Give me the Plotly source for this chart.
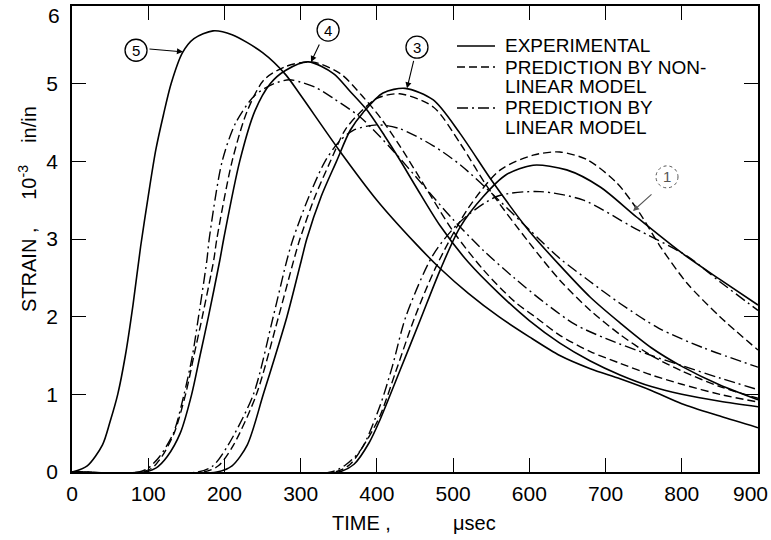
import plotly.graph_objects as go

# ---------------- data (time in microseconds, strain in 1e-3 in/in) ----------------
# Curve 5 (experimental only)
t_e5 = [0, 20, 40, 50, 60, 70, 80, 90, 100, 110, 120, 130, 145, 160, 185, 210, 250, 280, 300, 350,
        400, 450, 483, 520, 560, 600, 640, 680, 719, 760, 800, 850, 900]
s_e5 = [0, 0.08, 0.35, 0.65, 1.0, 1.5, 2.15, 2.9, 3.55, 4.15, 4.6, 5.0, 5.4, 5.58, 5.68, 5.63, 5.4, 5.12, 4.85, 4.15,
        3.5, 2.95, 2.62, 2.3, 2.0, 1.74, 1.5, 1.33, 1.2, 1.05, 0.88, 0.72, 0.57]

# Curve 4
t_e4 = [0, 95, 110, 125, 142, 157, 168, 179, 194, 199, 220, 240, 260, 280, 310, 343, 365, 387, 410, 430,
        452, 483, 520, 560, 600, 640, 680, 719, 760, 800, 850, 900]
s_e4 = [0, 0, 0.05, 0.2, 0.5, 1.0, 1.5, 2.0, 2.73, 3.0, 4.0, 4.65, 5.0, 5.17, 5.28, 5.13, 4.9, 4.66, 4.33, 4.02,
        3.66, 3.17, 2.7, 2.3, 1.95, 1.66, 1.43, 1.25, 1.1, 1.0, 0.91, 0.84]
t_n4 = [0, 90, 105, 118, 134, 149, 160, 171, 186, 190, 210, 230, 252, 280, 315, 352, 380, 404, 430, 466,
        500, 540, 580, 610, 640, 680, 719, 760, 800, 850, 900]
s_n4 = [0, 0, 0.05, 0.2, 0.5, 1.0, 1.5, 2.0, 2.73, 3.0, 4.0, 4.65, 5.05, 5.22, 5.28, 5.13, 4.85, 4.57, 4.2, 3.63,
        3.1, 2.6, 2.2, 1.98, 1.76, 1.55, 1.4, 1.25, 1.13, 1.0, 0.9]
t_l4 = [0, 88, 100, 115, 133, 147, 158, 166, 177, 180, 197, 215, 240, 265, 285, 300, 320, 343, 378, 420,
        460, 500, 540, 580, 620, 660, 700, 760, 800, 850, 900]
s_l4 = [0, 0, 0.05, 0.2, 0.5, 1.0, 1.5, 2.0, 2.73, 3.0, 4.0, 4.5, 4.85, 5.0, 5.05, 5.02, 4.95, 4.81, 4.57, 4.15,
        3.7, 3.25, 2.85, 2.5, 2.18, 1.9, 1.72, 1.5, 1.37, 1.21, 1.06]

# Curve 3
t_e3 = [0, 190, 210, 230, 251, 282, 301, 308, 327, 347, 365, 382, 408, 437, 474, 509, 553, 600, 640, 680,
        719, 760, 800, 850, 900]
s_e3 = [0, 0, 0.08, 0.35, 1.0, 2.0, 2.73, 3.0, 3.55, 4.0, 4.4, 4.63, 4.88, 4.94, 4.79, 4.36, 3.72, 3.1, 2.66, 2.25,
        1.92, 1.6, 1.36, 1.12, 0.93]
t_n3 = [0, 172, 192, 212, 242, 271, 291, 299, 319, 339, 358, 375, 400, 430, 474, 510, 545, 600, 640, 680,
        719, 760, 800, 850, 900]
s_n3 = [0, 0, 0.08, 0.35, 1.0, 2.0, 2.73, 3.0, 3.55, 4.0, 4.4, 4.6, 4.81, 4.87, 4.7, 4.22, 3.67, 2.95, 2.47, 2.08,
        1.77, 1.5, 1.3, 1.1, 0.95]
t_l3 = [0, 165, 185, 205, 238, 264, 282, 290, 311, 332, 350, 369, 400, 430, 474, 510, 560, 600, 640, 680,
        719, 770, 828, 900]
s_l3 = [0, 0, 0.08, 0.35, 1.0, 2.0, 2.73, 3.0, 3.55, 4.0, 4.25, 4.4, 4.47, 4.42, 4.2, 3.95, 3.5, 3.12, 2.75, 2.45,
        2.17, 1.85, 1.6, 1.35]

# Curve 1
t_e1 = [0, 350, 370, 390, 404, 430, 457, 483, 509, 539, 570, 605, 649, 693, 741, 800, 850, 900]
s_e1 = [0, 0, 0.1, 0.38, 0.67, 1.3, 1.96, 2.6, 3.15, 3.54, 3.83, 3.95, 3.89, 3.67, 3.28, 2.82, 2.48, 2.15]
t_n1 = [0, 345, 365, 385, 404, 425, 450, 478, 520, 562, 605, 640, 676, 715, 745, 772, 807, 850, 900]
s_n1 = [0, 0, 0.1, 0.38, 0.72, 1.3, 2.0, 2.65, 3.4, 3.89, 4.08, 4.12, 4.02, 3.72, 3.33, 2.9, 2.43, 2.0, 1.57]
t_l1 = [0, 340, 360, 380, 404, 420, 438, 474, 509, 558, 614, 671, 736, 807, 850, 900]
s_l1 = [0, 0, 0.1, 0.3, 0.85, 1.35, 2.0, 2.8, 3.22, 3.55, 3.61, 3.5, 3.15, 2.78, 2.45, 2.08]

x_ticks = [0, 100, 200, 300, 400, 500, 600, 700, 800, 900]
y_ticks = [0, 1, 2, 3, 4, 5, 6]

legend_labels = [["EXPERIMENTAL"],
                 ["PREDICTION BY NON-", "LINEAR MODEL"],
                 ["PREDICTION BY", "LINEAR MODEL"]]

# curve labels: (label, circle centre t, s, arrow head t, s, arrow tail offset px)
curve_labels = [("5", 84, 5.43, 145.6, 5.41, -35, -3),
                ("4", 336, 5.69, 313.6, 5.28, 9, -19),
                ("3", 452.6, 5.47, 439.5, 4.94, 7, -29),
                ("1", 780.6, 3.80, 736, 3.36, 20, -18)]

# ---------------- styles ----------------
SOLID = dict(color="black", width=1.6, dash="solid")
DASH = dict(color="black", width=1.4, dash="8px,4px")
DASHDOT = dict(color="black", width=1.4, dash="11px,4px,2px,4px")

FONT = "Liberation Sans, Arial, sans-serif"

fig = go.Figure()
series = [(t_e5, s_e5, SOLID),
          (t_e4, s_e4, SOLID), (t_n4, s_n4, DASH), (t_l4, s_l4, DASHDOT),
          (t_e3, s_e3, SOLID), (t_n3, s_n3, DASH), (t_l3, s_l3, DASHDOT),
          (t_e1, s_e1, SOLID), (t_n1, s_n1, DASH), (t_l1, s_l1, DASHDOT)]
for tx, sy, st in series:
    fig.add_trace(go.Scatter(x=tx, y=sy, mode="lines", showlegend=False, hoverinfo="skip",
                             line=dict(shape="spline", smoothing=0.8, **st)))

L, R, T, B = 72, 13, 6, 68
W, H = 771, 540
PW, PH = W - L - R, H - T - B


def px_to_paper(px, py):
    return (px - L) / PW, (H - B - py) / PH


shapes = []
annotations = []

# legend drawn at the upper right
rows_y = [46, 67, 87, 108, 128]
styles = [SOLID, DASH, DASHDOT]
row = 0
for lab, st in zip(legend_labels, styles):
    x0, y0 = px_to_paper(457, rows_y[row])
    x1, _ = px_to_paper(495, rows_y[row])
    shapes.append(dict(type="line", xref="paper", yref="paper", x0=x0, x1=x1, y0=y0, y1=y0,
                       line=dict(color="black", width=st["width"], dash=st["dash"])))
    for line_txt in lab:
        xt, yt = px_to_paper(503, rows_y[row])
        annotations.append(dict(xref="paper", yref="paper", x=xt, y=yt, text=line_txt, showarrow=False,
                                xanchor="left", yanchor="middle", font=dict(size=19, family=FONT, color="black")))
        row += 1

# curve labels with circles and arrows
for lab, ct, cs, ht, hs, ax, ay in curve_labels:
    faint = lab == "1"
    col = "#555555" if faint else "black"
    shapes.append(dict(type="circle", xref="x", yref="y", xsizemode="pixel", ysizemode="pixel",
                       xanchor=ct, yanchor=cs, x0=-11, x1=11, y0=-11, y1=11,
                       line=dict(color=col, width=1.0 if faint else 1.3, dash="dot" if faint else "solid")))
    annotations.append(dict(x=ct, y=cs, xref="x", yref="y", text=lab, showarrow=False,
                            font=dict(size=15, family=FONT, color=col)))
    annotations.append(dict(x=ht, y=hs, xref="x", yref="y", text="", showarrow=True, ax=ax, ay=ay,
                            arrowhead=2, arrowsize=1.1, arrowwidth=1.1, arrowcolor=col))

# top tick label "6" sits a little below its tick in the reference
annotations.append(dict(x=0, y=y_ticks[-1], xref="x", yref="y", text=str(y_ticks[-1]), showarrow=False,
                        xanchor="right", yanchor="middle", xshift=-10, yshift=-9,
                        font=dict(size=21, family=FONT, color="black")))
# last x tick label is pushed against the right edge in the reference
annotations.append(dict(x=x_ticks[-1], y=0, xref="x", yref="y", text=str(x_ticks[-1]), showarrow=False,
                        xanchor="right", yanchor="top", xshift=12, yshift=-8,
                        font=dict(size=21, family=FONT, color="black")))

# axis titles
TF = dict(size=20, family=FONT, color="black")
for txt, px in [("TIME ,", 361), ("\u03bcsec", 475)]:
    xa, ya = px_to_paper(px, 523)
    annotations.append(dict(xref="paper", yref="paper", x=xa, y=ya, text=txt, showarrow=False,
                            xanchor="center", yanchor="middle", font=TF))
NB = "\u00a0"
ytitle = "STRAIN ," + NB * 5 + "10<sup>-3</sup>" + NB * 4 + "in/in"
xa, ya = px_to_paper(27, 209)
annotations.append(dict(xref="paper", yref="paper", x=xa, y=ya, text=ytitle, showarrow=False,
                        textangle=-90, xanchor="center", yanchor="middle", font=TF))

axis_common = dict(showgrid=False, zeroline=False, showline=True, linecolor="black", linewidth=1.5,
                   mirror="ticks", ticks="inside", ticklen=14, tickwidth=1.3, tickcolor="black",
                   automargin=False,
                   tickfont=dict(size=21, family=FONT, color="black"))

fig.update_layout(
    width=W, height=H,
    margin=dict(l=L, r=R, t=T, b=B, autoexpand=False),
    paper_bgcolor="white", plot_bgcolor="white",
    xaxis=dict(range=[0, 900], tickvals=x_ticks[:-1], ticktext=[str(v) for v in x_ticks[:-1]],
               ticklabelstandoff=2, **axis_common),
    yaxis=dict(range=[0, 6], tickvals=y_ticks[:-1], ticktext=[str(v) for v in y_ticks[:-1]],
               ticklabelstandoff=8, **axis_common),
    shapes=shapes,
    annotations=annotations,
    showlegend=False,
)

fig.write_html("out.html")
